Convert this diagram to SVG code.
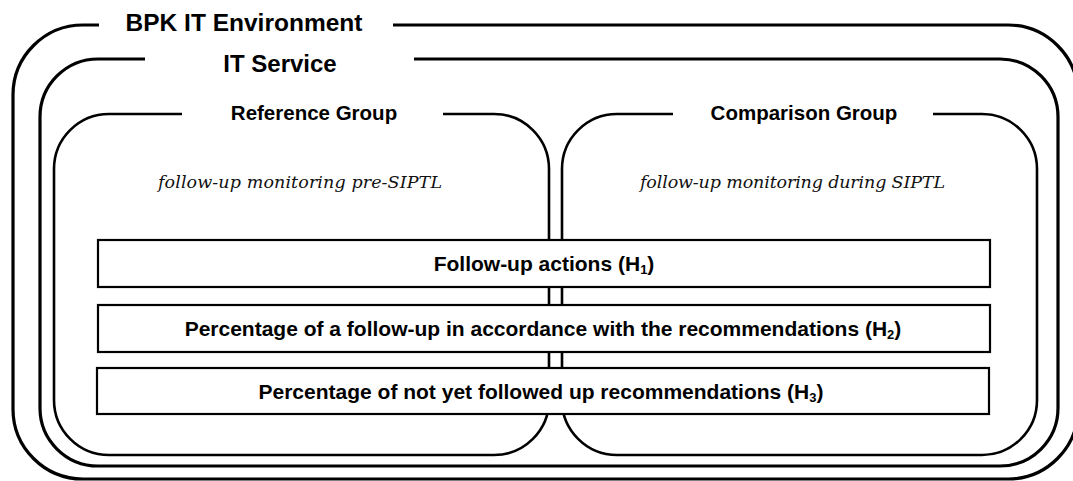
<svg xmlns="http://www.w3.org/2000/svg" width="1073" height="481" viewBox="0 0 1073 481">
<style>
.frame{fill:none;stroke:#000;stroke-linecap:butt;stroke-linejoin:round}
.f1{stroke-width:3.2}
.f2{stroke-width:3.2}
.f3{stroke-width:2.6}
.bar{fill:#fff;stroke:#000;stroke-width:2.2}
.title{font-family:"Liberation Sans",Arial,sans-serif;font-weight:bold;fill:#000;text-anchor:middle}
.ital{font-family:"DejaVu Serif","Liberation Serif",serif;font-style:italic;fill:#111;font-size:17.5px}
.bt{font-family:"Liberation Sans",Arial,sans-serif;font-weight:bold;fill:#000;text-anchor:middle;font-size:21px}
</style>
<rect width="1073" height="481" fill="#fff"/>
<g id="bpk-it-environment">
<path class="frame f1" d="M99,25 H83 A70,70 0 0 0 13,95 V409 A70,70 0 0 0 83,479 H1008 A70,70 0 0 0 1078,409 V95 A70,70 0 0 0 1008,25 H393"/>
<text class="title" x="244" y="31" font-size="24.5">BPK IT Environment</text>
</g>
<g id="it-service">
<path class="frame f2" d="M145,59 H98 A58,58 0 0 0 40,117 V408 A58,58 0 0 0 98,466 H1000 A58,58 0 0 0 1058,408 V117 A58,58 0 0 0 1000,59 H414"/>
<text class="title" x="280" y="72" font-size="24">IT Service</text>
</g>
<g id="reference-group">
<path class="frame f3" d="M182,114 H109 A55,55 0 0 0 54,169 V400 A55,55 0 0 0 109,455 H494 A55,55 0 0 0 549,400 V169 A55,55 0 0 0 494,114 H443"/>
<text class="title" x="314" y="120" font-size="20.5">Reference Group</text>
<text class="ital" x="158" y="188" textLength="284">follow-up monitoring pre-SIPTL</text>
</g>
<g id="comparison-group">
<path class="frame f3" d="M673,114 H617 A55,55 0 0 0 562,169 V400 A55,55 0 0 0 617,455 H982 A55,55 0 0 0 1037,400 V169 A55,55 0 0 0 982,114 H933"/>
<text class="title" x="804" y="120" font-size="20.5">Comparison Group</text>
<text class="ital" x="640" y="188" textLength="305">follow-up monitoring during SIPTL</text>
</g>
<g id="h1">
<rect class="bar" x="98" y="240" width="892" height="47"/>
<text class="bt" x="544" y="271">Follow-up actions (H<tspan font-size="13" dy="3">1</tspan><tspan dy="-3">)</tspan></text>
</g>
<g id="h2">
<rect class="bar" x="98" y="305" width="892" height="47"/>
<text class="bt" x="543" y="336">Percentage of a follow-up in accordance with the recommendations (H<tspan font-size="13" dy="3">2</tspan><tspan dy="-3">)</tspan></text>
</g>
<g id="h3">
<rect class="bar" x="97" y="368" width="892" height="46"/>
<text class="bt" x="541" y="399">Percentage of not yet followed up recommendations (H<tspan font-size="13" dy="3">3</tspan><tspan dy="-3">)</tspan></text>
</g>
<g id="connectors"></g>
</svg>
